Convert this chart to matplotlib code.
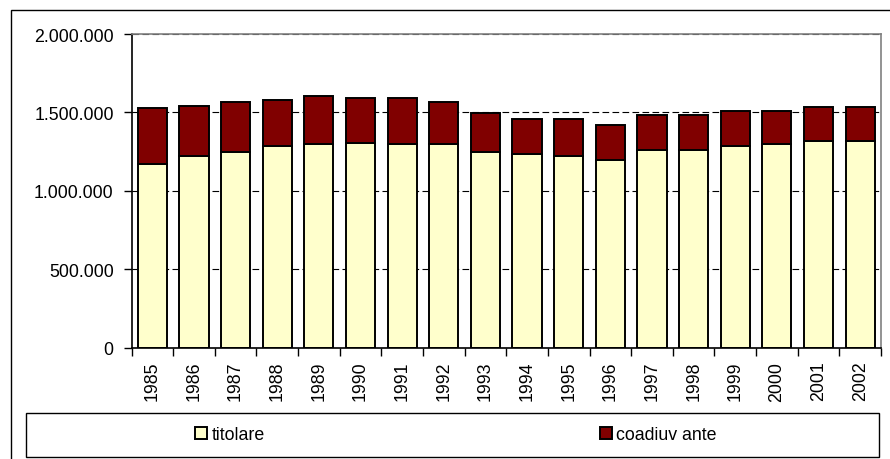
import matplotlib
matplotlib.use("Agg")
import matplotlib.pyplot as plt
from matplotlib.patches import Rectangle
from matplotlib.ticker import FuncFormatter, FixedLocator
from matplotlib import font_manager

names = {f.name for f in font_manager.fontManager.ttflist}
if 'Liberation Sans Narrow' in names:
    plt.rcParams['font.family'] = ['Liberation Sans Narrow', 'DejaVu Sans']
    FS = 15.5
else:
    plt.rcParams['font.family'] = ['Liberation Sans', 'DejaVu Sans']
    FS = 12.8

years = ["1985", "1986", "1987", "1988", "1989", "1990", "1991", "1992", "1993",
         "1994", "1995", "1996", "1997", "1998", "1999", "2000", "2001", "2002"]
titolare = [1172000, 1223000, 1247000, 1283000, 1298000, 1306000, 1298000, 1298000, 1247000,
            1234000, 1221000, 1198000, 1259000, 1259000, 1285000, 1296000, 1319000, 1319000]
coadiuvante = [357000, 319000, 319000, 297000, 306000, 287000, 295000, 268000, 249000,
               223000, 236000, 221000, 224000, 224000, 221000, 210000, 213000, 213000]
yticks = [0, 500000, 1000000, 1500000, 2000000]

W, H = 890, 460
fig = plt.figure(figsize=(W / 100, H / 100), dpi=100)

# outer chart frame
fig.patches.append(Rectangle((11 / W, -0.1), 1.2, (H - 11) / H + 0.1, transform=fig.transFigure,
                             fill=False, edgecolor='black', linewidth=1.0, zorder=0))

left, right, top, bottom = 131.5, 881, 35, 348.5
ax = fig.add_axes([left / W, (H - bottom) / H, (right - left) / W, (bottom - top) / H])

x = list(range(len(years)))
b1 = ax.bar(x, titolare, width=0.7, color='#FFFFCC', edgecolor='black', linewidth=1.4,
            label='titolare', zorder=3)
b2 = ax.bar(x, coadiuvante, width=0.7, bottom=titolare, color='#800000', edgecolor='black',
            linewidth=1.4, label='coadiuv ante', zorder=3)

ax.set_xlim(-0.5, len(years) - 0.5)
ax.set_ylim(0, 2000000)
ax.yaxis.set_major_locator(FixedLocator(yticks))
ax.yaxis.set_major_formatter(FuncFormatter(lambda v, p: f"{v:,.0f}".replace(",", ".")))
ax.grid(axis='y', color='black', linestyle=(0, (6, 3)), linewidth=0.8, zorder=1)

ax.set_xticks(x)
ax.set_xticklabels(years, rotation=90, fontsize=FS)
ax.set_xticks([i - 0.5 for i in range(len(years) + 1)], minor=True)
ax.tick_params(axis='x', which='major', length=0, pad=9.5)
ax.tick_params(axis='x', which='minor', length=5.8, direction='out', width=1, color='black')
ax.tick_params(axis='y', length=5.8, direction='out', width=1, pad=7, labelsize=FS)

for s in ['top', 'right']:
    ax.spines[s].set_color('#808080')
    ax.spines[s].set_linewidth(1.2)
    ax.spines[s].set_zorder(4)
for s in ['left', 'bottom']:
    ax.spines[s].set_color('black')
    ax.spines[s].set_linewidth(1.2)
    ax.spines[s].set_zorder(4)

# legend box
lb_l, lb_r, lb_t, lb_b = 26, 879, 414, 458
fig.patches.append(Rectangle((lb_l / W, (H - lb_b) / H), (lb_r - lb_l) / W, (lb_b - lb_t) / H,
                             transform=fig.transFigure, fill=False, edgecolor='black',
                             linewidth=1.0, zorder=1))
ycen = 1 - 436 / H
for handle, xpos in [(b1, 195), (b2, 600)]:
    fig.legend([handle], [handle.get_label()], loc='center left',
               bbox_to_anchor=(xpos / W, ycen), frameon=False, fontsize=FS,
               handlelength=12 / (FS * 100 / 72), handleheight=12 / (FS * 100 / 72),
               handletextpad=0.25, borderpad=0, borderaxespad=0)

fig.savefig("out.png", dpi=100)
